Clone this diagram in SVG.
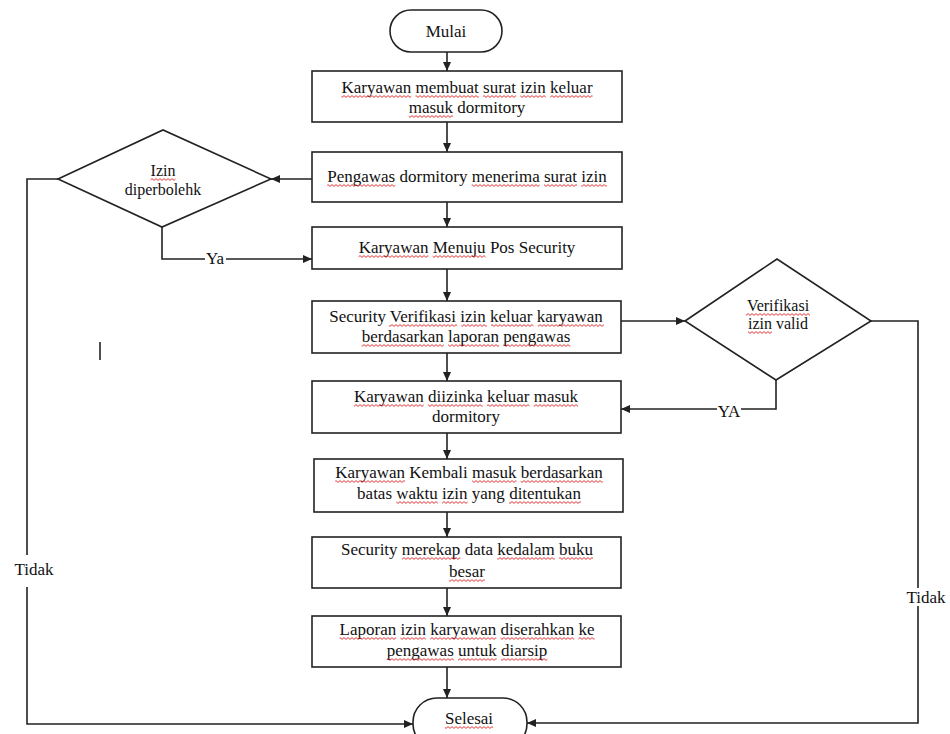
<svg xmlns="http://www.w3.org/2000/svg" width="950" height="734" viewBox="0 0 950 734">
<style>
.shape{fill:#fff;stroke:#222;stroke-width:1.6}
.ln{fill:none;stroke:#222;stroke-width:1.6}
text{font-family:"Liberation Serif","Times New Roman",serif;font-size:17px;fill:#111;text-anchor:middle}
.d{font-size:16px}
.w0{fill:url(#wv0)}
.w1{fill:url(#wv1)}
.w2{fill:url(#wv2)}
</style>
<defs>
<marker id="arr" markerUnits="userSpaceOnUse" markerWidth="10" markerHeight="8" refX="9" refY="4" orient="auto">
<path d="M0,0 L9,4 L0,8 z" fill="#222"/>
</marker>
<pattern id="wv0" patternUnits="userSpaceOnUse" width="4" height="3">
<path d="M-0.5,0.6 L0,0.6 L2,2.4 L4,0.6 L4.5,0.6" fill="none" stroke="#e02020" stroke-width="0.9"/>
</pattern>
<pattern id="wv1" href="#wv0" patternTransform="translate(0,1)"/>
<pattern id="wv2" href="#wv0" patternTransform="translate(0,2)"/>
</defs>
<rect width="950" height="734" fill="#fff"/>

<g id="connectors">
<line class="ln" x1="447" y1="52" x2="447" y2="71" marker-end="url(#arr)"/>
<line class="ln" x1="447" y1="122" x2="447" y2="152" marker-end="url(#arr)"/>
<line class="ln" x1="447" y1="202" x2="447" y2="227" marker-end="url(#arr)"/>
<line class="ln" x1="447" y1="269" x2="447" y2="301" marker-end="url(#arr)"/>
<line class="ln" x1="447" y1="353" x2="447" y2="381" marker-end="url(#arr)"/>
<line class="ln" x1="447" y1="433" x2="447" y2="459" marker-end="url(#arr)"/>
<line class="ln" x1="447" y1="512" x2="447" y2="537" marker-end="url(#arr)"/>
<line class="ln" x1="447" y1="588" x2="447" y2="616" marker-end="url(#arr)"/>
<line class="ln" x1="447" y1="667" x2="447" y2="698" marker-end="url(#arr)"/>
<line class="ln" x1="312" y1="179" x2="271" y2="179" marker-end="url(#arr)"/>
<polyline class="ln" points="162,227 162,259 205,259"/>
<line class="ln" x1="226" y1="259" x2="312" y2="259" marker-end="url(#arr)"/>
<polyline class="ln" points="58,179 27,179 27,555"/>
<polyline class="ln" points="27,587 27,724 413,724" marker-end="url(#arr)"/>
<line class="ln" x1="621" y1="321" x2="685" y2="321" marker-end="url(#arr)"/>
<polyline class="ln" points="776,380 776,409 741,409"/>
<line class="ln" x1="717" y1="409" x2="621" y2="409" marker-end="url(#arr)"/>
<polyline class="ln" points="871,321 918,321 918,588"/>
<polyline class="ln" points="918,606 918,723 527,723" marker-end="url(#arr)"/>
<text x="215" y="264">Ya</text>
<text x="729" y="417">YA</text>
<text x="34" y="575">Tidak</text>
<text x="926" y="603">Tidak</text>
</g>

<g id="mulai">
<rect class="shape" x="390" y="10" width="112" height="42" rx="21" ry="21"/>
<text x="446" y="37">Mulai</text>
</g>

<g id="box1">
<rect class="shape" x="312" y="71" width="310" height="51"/>
<text x="467" y="93"><tspan>Karyawan</tspan> <tspan>membuat</tspan> <tspan>surat</tspan> <tspan>izin</tspan> <tspan>keluar</tspan></text>
<text x="467" y="113"><tspan>masuk</tspan> dormitory</text>
<g>
<rect class="w2" x="341.4" y="95" width="69.9" height="3"/>
<rect class="w2" x="415.5" y="95" width="63.3" height="3"/>
<rect class="w2" x="483" y="95" width="33.1" height="3"/>
<rect class="w2" x="520.3" y="95" width="25.5" height="3"/>
<rect class="w2" x="550.1" y="95" width="42.5" height="3"/>
<rect class="w1" x="408.7" y="115" width="44.4" height="3"/>
</g>
</g>

<g id="box2">
<rect class="shape" x="312" y="152" width="310" height="50"/>
<text x="467" y="182"><tspan>Pengawas</tspan> dormitory <tspan>menerima</tspan> <tspan>surat</tspan> <tspan>izin</tspan></text>
<g>
<rect class="w1" x="327.2" y="184" width="68" height="3"/>
<rect class="w1" x="471.7" y="184" width="68" height="3"/>
<rect class="w1" x="544" y="184" width="33" height="3"/>
<rect class="w1" x="581.3" y="184" width="25.5" height="3"/>
</g>
</g>

<g id="box3">
<rect class="shape" x="312" y="227" width="310" height="42"/>
<text x="467" y="253"><tspan>Karyawan</tspan> <tspan>Menuju</tspan> Pos Security</text>
<g>
<rect class="w0" x="358.6" y="255" width="69.9" height="3"/>
<rect class="w0" x="432.7" y="255" width="52.9" height="3"/>
</g>
</g>

<g id="box4">
<rect class="shape" x="312" y="301" width="309" height="52"/>
<text x="466" y="322">Security <tspan>Verifikasi</tspan> <tspan>izin</tspan> <tspan>keluar</tspan> <tspan>karyawan</tspan></text>
<text x="466" y="342"><tspan>berdasarkan</tspan> <tspan>laporan</tspan> <tspan>pengawas</tspan></text>
<g>
<rect class="w0" x="389.1" y="324" width="68" height="3"/>
<rect class="w0" x="461.3" y="324" width="25.5" height="3"/>
<rect class="w0" x="491" y="324" width="42.5" height="3"/>
<rect class="w0" x="537.8" y="324" width="66.1" height="3"/>
<rect class="w2" x="361.7" y="344" width="82.1" height="3"/>
<rect class="w2" x="448.1" y="344" width="51" height="3"/>
<rect class="w2" x="503.3" y="344" width="67" height="3"/>
</g>
</g>

<g id="box5">
<rect class="shape" x="312" y="381" width="309" height="52"/>
<text x="466" y="402"><tspan>Karyawan</tspan> <tspan>diizinka</tspan> <tspan>keluar</tspan> <tspan>masuk</tspan></text>
<text x="466" y="422">dormitory</text>
<g>
<rect class="w2" x="353.9" y="404" width="69.8" height="3"/>
<rect class="w2" x="428" y="404" width="54.7" height="3"/>
<rect class="w2" x="487" y="404" width="42.5" height="3"/>
<rect class="w2" x="533.7" y="404" width="44.4" height="3"/>
</g>
</g>

<g id="box6">
<rect class="shape" x="314" y="459" width="309" height="53"/>
<text x="469" y="478"><tspan>Karyawan</tspan> Kembali <tspan>masuk</tspan> <tspan>berdasarkan</tspan></text>
<text x="469" y="499">batas <tspan>waktu</tspan> <tspan>izin</tspan> yang <tspan>ditentukan</tspan></text>
<g>
<rect class="w0" x="335.2" y="480" width="69.8" height="3"/>
<rect class="w0" x="472.1" y="480" width="44.4" height="3"/>
<rect class="w0" x="520.7" y="480" width="82.1" height="3"/>
<rect class="w0" x="396.3" y="501" width="41.5" height="3"/>
<rect class="w0" x="442.1" y="501" width="25.5" height="3"/>
<rect class="w0" x="509.1" y="501" width="71.8" height="3"/>
</g>
</g>

<g id="box7">
<rect class="shape" x="312" y="537" width="309" height="51"/>
<text x="467" y="555">Security <tspan>merekap</tspan> data <tspan>kedalam</tspan> <tspan>buku</tspan></text>
<text x="467" y="577"><tspan>besar</tspan></text>
<g>
<rect class="w2" x="401.9" y="557" width="58.5" height="3"/>
<rect class="w2" x="497.2" y="557" width="57.6" height="3"/>
<rect class="w2" x="559.1" y="557" width="34" height="3"/>
<rect class="w0" x="449.1" y="579" width="35.8" height="3"/>
</g>
</g>

<g id="box8">
<rect class="shape" x="312" y="616" width="309" height="51"/>
<text x="467" y="635"><tspan>Laporan</tspan> <tspan>izin</tspan> <tspan>karyawan</tspan> <tspan>diserahkan</tspan> <tspan>ke</tspan></text>
<text x="467" y="656"><tspan>pengawas</tspan> <tspan>untuk</tspan> <tspan>diarsip</tspan></text>
<g>
<rect class="w1" x="339.5" y="637" width="56.7" height="3"/>
<rect class="w1" x="400.4" y="637" width="25.5" height="3"/>
<rect class="w1" x="430.2" y="637" width="66.1" height="3"/>
<rect class="w1" x="500.5" y="637" width="73.7" height="3"/>
<rect class="w1" x="578.4" y="637" width="16.1" height="3"/>
<rect class="w1" x="386.7" y="658" width="67.1" height="3"/>
<rect class="w1" x="458" y="658" width="38.7" height="3"/>
<rect class="w1" x="501" y="658" width="46.3" height="3"/>
</g>
</g>

<g id="selesai">
<rect class="shape" x="413" y="698" width="114" height="50" rx="24" ry="24"/>
<text x="469" y="724"><tspan>Selesai</tspan></text>
<rect class="w0" x="444.9" y="726" width="48.2" height="3"/>
</g>

<g id="decision-izin">
<polygon class="shape" points="58,179 163,130 271,179 162,227"/>
<text class="d" x="163" y="176"><tspan>Izin</tspan></text>
<text class="d" x="163" y="195">diperbolehk</text>
<rect class="w1" x="150.6" y="178" width="24.9" height="3"/>
</g>

<g id="decision-verifikasi">
<polygon class="shape" points="685,321 777,259 871,321 776,380"/>
<text class="d" x="778" y="311"><tspan>Verifikasi</tspan></text>
<text class="d" x="778" y="329"><tspan>izin</tspan> valid</text>
<rect class="w1" x="746" y="313" width="64" height="3"/>
<rect class="w1" x="748" y="331" width="24" height="3"/>
</g>

<line class="ln" x1="100" y1="342" x2="100" y2="360"/>
</svg>
